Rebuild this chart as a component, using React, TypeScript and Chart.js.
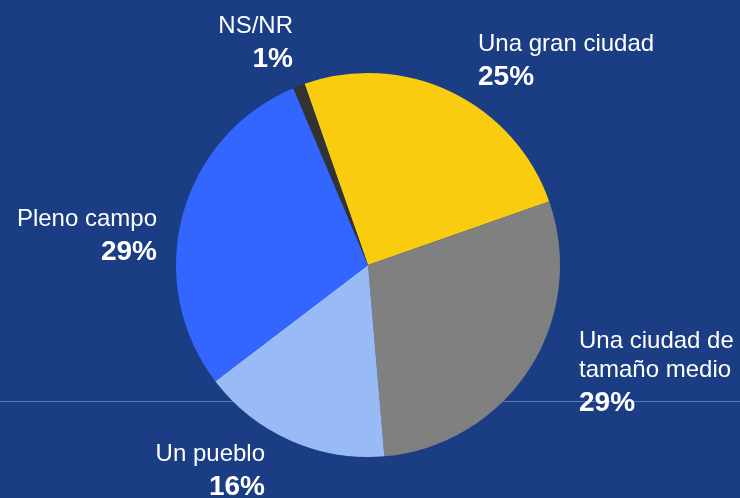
import React, { useEffect, useRef } from "react";
import { Chart, registerables } from "chart.js";

Chart.register(...registerables);

const categories = ["Una gran ciudad", "Una ciudad de tamaño medio", "Un pueblo", "Pleno campo", "NS/NR"];
const values = [25, 29, 16, 29, 1];
const percentLabels = ["25%", "29%", "16%", "29%", "1%"];
const nameLines = [["Una gran ciudad"], ["Una ciudad de", "tamaño medio"], ["Un pueblo"], ["Pleno campo"], ["NS/NR"]];
const colors = ["#FACC0F", "#808080", "#99BBF5", "#3366FF", "#333333"];

const BG = "#1A3D84";

// label layout: x anchor, baseline of first name line, alignment
const labelLayout = [
  { x: 478, y: 51, align: "left" },
  { x: 579, y: 348, align: "left" },
  { x: 265, y: 461, align: "right" },
  { x: 157, y: 226, align: "right" },
  { x: 293, y: 33, align: "right" },
];

export default function App() {
  const ref = useRef<HTMLCanvasElement>(null);
  useEffect(() => {
    if (!ref.current) return;
    const bgPlugin = {
      id: "bgLine",
      beforeDraw(chart: any) {
        const { ctx, width, height } = chart;
        ctx.save();
        ctx.fillStyle = BG;
        ctx.fillRect(0, 0, width, height);
        ctx.strokeStyle = "#5A7BC0";
        ctx.lineWidth = 1;
        ctx.beginPath();
        ctx.moveTo(0, 401.5);
        ctx.lineTo(width, 401.5);
        ctx.stroke();
        ctx.restore();
      },
    };
    const labelPlugin = {
      id: "labels",
      afterDraw(chart: any) {
        const { ctx } = chart;
        ctx.save();
        ctx.fillStyle = "#FFFFFF";
        ctx.textBaseline = "alphabetic";
        categories.forEach((_, i) => {
          const L = labelLayout[i];
          ctx.textAlign = L.align;
          ctx.font = "24px 'Liberation Sans', Arial, sans-serif";
          let y = L.y;
          nameLines[i].forEach((line, j) => {
            ctx.fillText(line, L.x, y);
            if (j < nameLines[i].length - 1) y += 29;
          });
          ctx.font = "bold 28px 'Liberation Sans', Arial, sans-serif";
          ctx.fillText(percentLabels[i], L.x, y + 34);
        });
        ctx.restore();
      },
    };
    const chart = new Chart(ref.current, {
      type: "pie",
      data: {
        labels: categories,
        datasets: [
          {
            data: values,
            backgroundColor: colors,
            borderWidth: 0,
          },
        ],
      },
      options: {
        animation: false,
        responsive: false,
        rotation: -19.3,
        layout: { padding: { top: 73, bottom: 41, left: 176, right: 180 } },
        plugins: {
          legend: { display: false },
          tooltip: { enabled: false },
        },
      },
      plugins: [bgPlugin, labelPlugin],
    });
    return () => chart.destroy();
  }, []);
  return (
    <div style={{ position: "fixed", left: 0, top: 0, width: 740, height: 498, background: BG }}>
      <canvas ref={ref} width={740} height={498} style={{ display: "block", width: 740, height: 498 }} />
    </div>
  );
}
